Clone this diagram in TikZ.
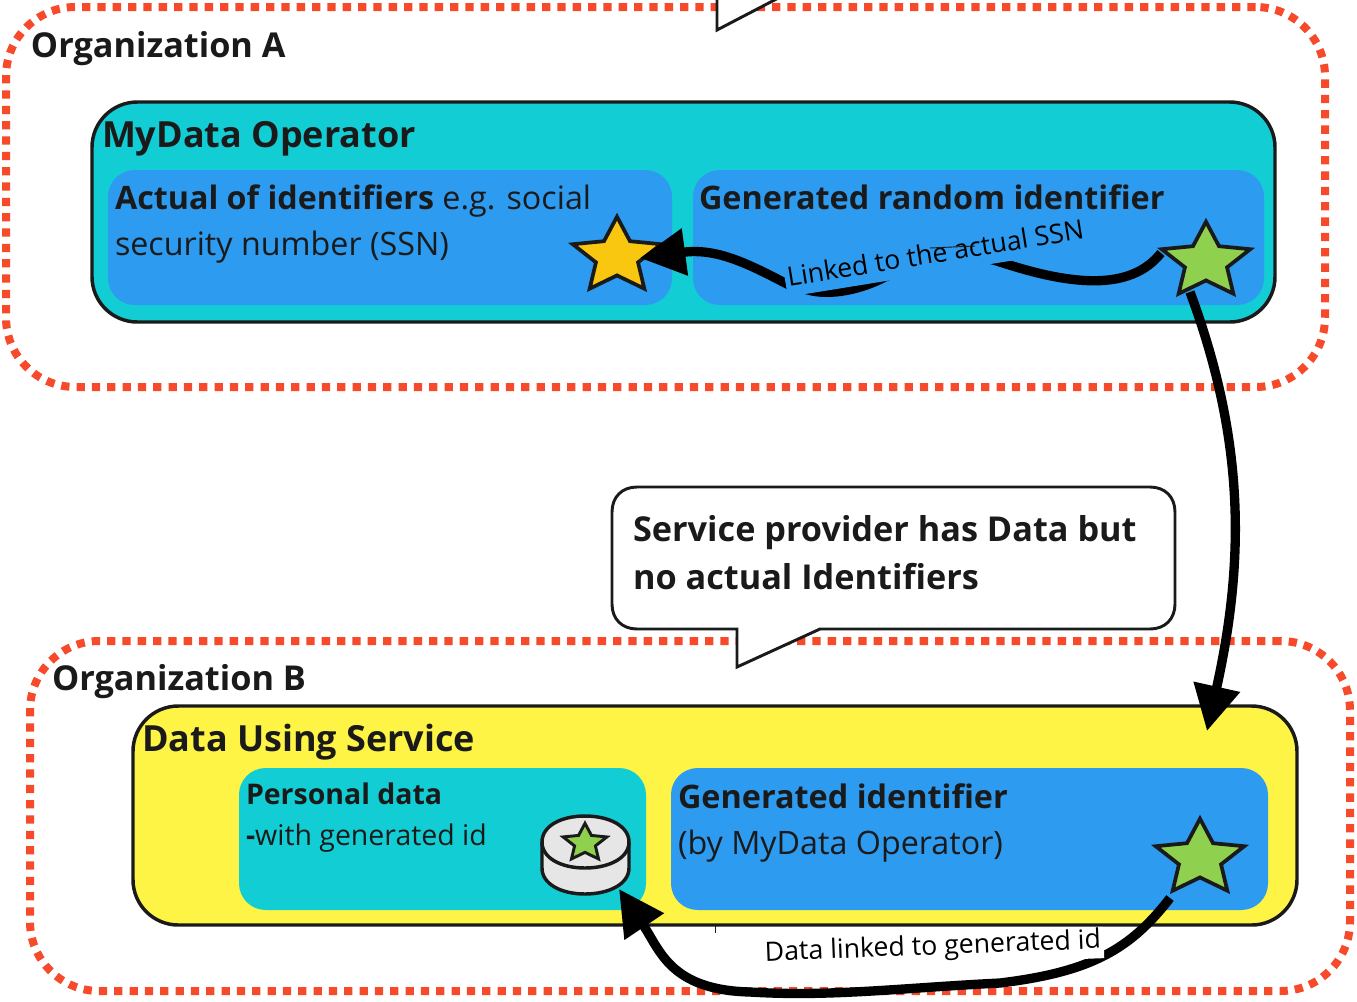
\documentclass[tikz,border=0pt]{standalone}
\usepackage{fontspec}
\setmainfont{Open Sans}
\usetikzlibrary{arrows.meta,shapes.geometric}
\definecolor{ink}{HTML}{1A1A1A}
\definecolor{orgred}{HTML}{F64A2A}
\definecolor{teal}{HTML}{13CDD4}
\definecolor{azure}{HTML}{2D9BF0}
\definecolor{lemon}{HTML}{FEF445}
\definecolor{leaf}{HTML}{8FD14F}
\definecolor{gold}{HTML}{FAC710}
\definecolor{disk}{HTML}{E6E6E6}
\tikzset{
  wh/.style 2 args={minimum width=#1*0.75pt,minimum height=#2*0.75pt,inner sep=0pt,outer sep=0pt,anchor=north west},
  orgbox/.style={draw=orgred,line width=6pt,rounded corners=52pt,dash pattern=on 6.2pt off 5.3pt},
  outerbox/.style={draw=ink,line width=2.6pt,rounded corners=34pt},
  innerbox/.style={rounded corners=20pt},
  bubble/.style={draw=ink,fill=white,line width=2.2pt,line join=miter},
  fivestar/.style={star,star points=5,star point ratio=2.1,minimum size=#1*1.5pt,inner sep=0pt,outer sep=0pt,draw=ink,line width=2.8pt,line join=miter,yscale=.855,transform shape},
  txt/.style={anchor=base west,inner sep=0pt,outer sep=0pt,text=ink},
  org/.style={font=\fontsize{25.7}{30}\selectfont\bfseries},
  big/.style={font=\fontsize{27}{32}\selectfont\bfseries},
  mid/.style={font=\fontsize{24.2}{30}\selectfont},
  midb/.style={font=\fontsize{24.3}{30}\selectfont\bfseries},
  note/.style={font=\fontsize{25.7}{30}\selectfont\bfseries},
  sub/.style={font=\fontsize{21.35}{26}\selectfont},
  arrowline/.style={draw=black,line width=7pt,-{Triangle[length=34pt,width=34pt]}},
  lbl/.style={font=\fontsize{20}{23}\selectfont,text=black,inner xsep=2pt,inner ysep=0pt,outer sep=0pt,text height=16pt,text depth=7.5pt},
}
\begin{document}
\begin{tikzpicture}[x=0.75pt,y=-0.75pt]
\clip (0,0) rectangle (1357,1001);
\fill[white] (0,0) rectangle (1357,1001);
% organisations
\node[wh={1319}{380},orgbox] (orga) at (6,7) {};
\node[wh={1320}{350},orgbox] (orgb) at (30,641) {};
% top speech bubble tail
\coordinate (tailA) at (717,-6);
\coordinate (tailB) at (717,30);
\coordinate (tailC) at (786,-6);
\draw[bubble] (tailA) -- (tailB) -- (tailC);
% main boxes
\node[wh={1183}{220},outerbox,fill=teal] (operator) at (92,102) {};
\node[wh={564}{135},innerbox,fill=azure] (actual) at (108,170) {};
\node[wh={571}{135},innerbox,fill=azure] (random) at (693,170) {};
\node[wh={1164}{219},outerbox,fill=lemon] (service) at (133,706) {};
\node[wh={407}{142},innerbox,fill=teal] (personal) at (239,768) {};
\node[wh={597}{142},innerbox,fill=azure] (generated) at (671,768) {};
% second speech bubble
\draw[bubble] (737,629) -- (637,629) .. controls (622,629) and (612,619) .. (612,604) -- (612,512)
  .. controls (612,497) and (622,487) .. (637,487) -- (1150,487)
  .. controls (1165,487) and (1175,497) .. (1175,512) -- (1175,604)
  .. controls (1175,619) and (1165,629) .. (1150,629) -- (820,629) -- (737,667) -- cycle;
% stars
\node[fivestar=46.5,fill=gold] (goldstar) at (617,256.5) {};
\node[fivestar=46.5,fill=leaf] (greenstar) at (1206,261.5) {};
\node[fivestar=46.5,fill=leaf] (copystar) at (1200,858.5) {};
% database icon
\draw[draw=ink,fill=disk,line width=2.6pt] (542,842) -- (542,868)
  .. controls (542,884) and (561,894) .. (585,894)
  .. controls (609,894) and (629,884) .. (629,868) -- (629,842)
  .. controls (629,826) and (609,816) .. (585,816)
  .. controls (561,816) and (542,826) .. (542,842) -- cycle;
\draw[draw=ink,line width=2.6pt] (542,842)
  .. controls (542,858) and (561,868) .. (585,868)
  .. controls (609,868) and (629,858) .. (629,842);
\node[fivestar=23,fill=leaf,line width=2.2pt] (dbstar) at (585,843) {};
% connectors
\coordinate (linkstart) at (1161,253);
\coordinate (linkend) at (640,258);
\coordinate (sharestart) at (1190,292);
\coordinate (shareend) at (1207,731);
\coordinate (datastart) at (1170,898);
\coordinate (dataend) at (619,889);
\draw[arrowline] (linkstart) .. controls (1130,292) and (1070,285) .. (1000,262)
  .. controls (960,248) and (905,268) .. (885,277)
  .. controls (860,290) and (830,296) .. (808,290)
  .. controls (800,288) and (795,288) .. (785,283)
  .. controls (745,262) and (715,248) .. (linkend);
\node[lbl,fill=azure,rotate=9.2] (linklabel) at (936,257) {Linked to the actual SSN};
\draw[ink,line width=.7pt] (930,248) -- (975,246);
\draw[arrowline] (sharestart) .. controls (1245,440) and (1245,560) .. (shareend);
\draw[arrowline] (datastart) .. controls (1130,950) and (1090,972) .. (1000,983)
  .. controls (900,988) and (830,997) .. (750,992)
  .. controls (670,990) and (660,950) .. (dataend);
\node[lbl,fill=white,rotate=2.2] (datalabel) at (933,949) {Data linked to generated id};
\draw[ink,line width=.6pt] (715,926) -- (715,933);
% text
\node[txt,org] (ta) at (31,57) {Organization A};
\node[txt,org] (tb) at (52,690) {Organization B};
\node[txt,big] (tc) at (102,147) {MyData Operator};
\node[txt,big] (td) at (142,751) {Data Using Service};
\node[txt,mid] (te) at (115,209) {\textbf{Actual of identifiers} e.g. social};
\node[txt,mid] (tf) at (115,255) {security number (SSN)};
\node[txt,midb] (tg) at (699,209) {Generated random identifier};
\node[txt,note] (th) at (633,541) {Service provider has Data but};
\node[txt,note] (ti) at (633,589) {no actual Identifiers};
\node[txt,sub] (tj) at (246,804) {\textbf{Personal data}};
\node[txt,sub] (tk) at (246,845) {\textbf{-}with generated id};
\node[txt,midb] (tl) at (678,808) {Generated identifier};
\node[txt,mid] (tm) at (678,854) {(by MyData Operator)};
\end{tikzpicture}
\end{document}
